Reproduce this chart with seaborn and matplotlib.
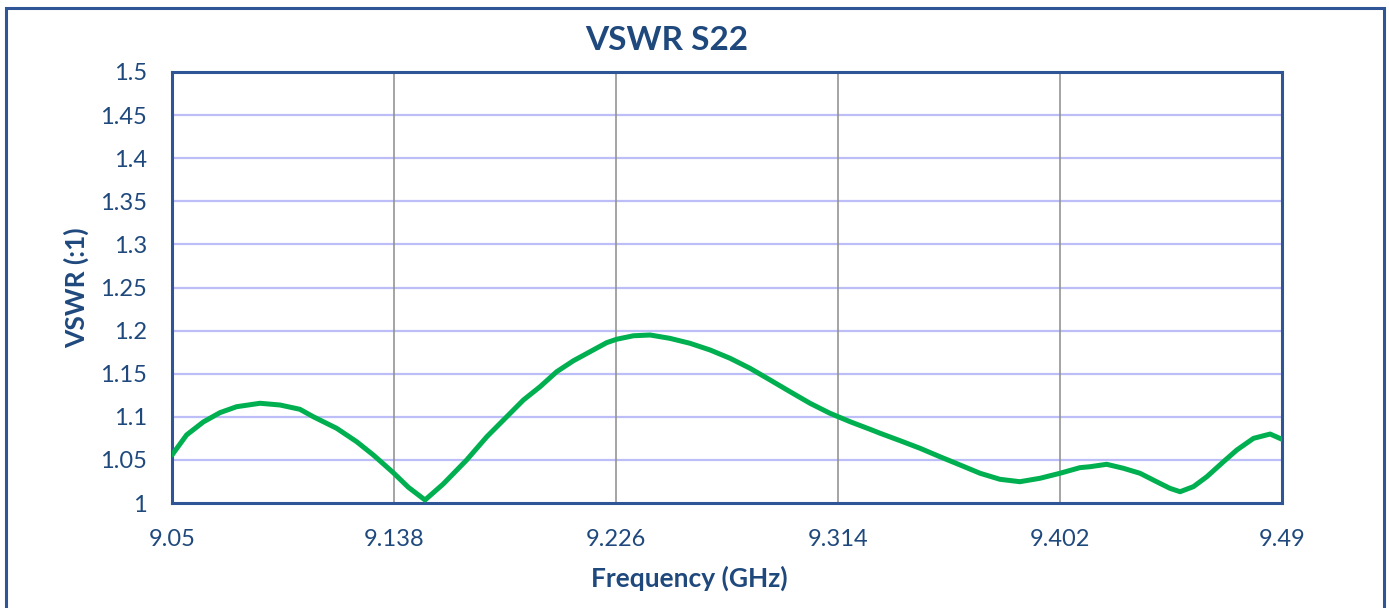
import matplotlib
matplotlib.use("Agg")
import matplotlib.pyplot as plt
from matplotlib.patches import Rectangle
import seaborn as sns
import pandas as pd

# Data
freq_ghz = [9.0500, 9.0558, 9.0624, 9.0690, 9.0756, 9.0849, 9.0928, 9.1007, 9.1060,
            9.1153, 9.1232, 9.1298, 9.1377, 9.1437, 9.1503, 9.1575, 9.1668, 9.1748,
            9.1827, 9.1893, 9.1959, 9.2025, 9.2091, 9.2157, 9.2223, 9.2263, 9.2329,
            9.2395, 9.2474, 9.2553, 9.2633, 9.2712, 9.2791, 9.2871, 9.2950, 9.3029,
            9.3108, 9.3188, 9.3267, 9.3307, 9.3386, 9.3465, 9.3544, 9.3624, 9.3703,
            9.3782, 9.3861, 9.3941, 9.4020, 9.4099, 9.4139, 9.4205, 9.4271, 9.4337,
            9.4403, 9.4456, 9.4496, 9.4549, 9.4602, 9.4668, 9.4721, 9.4787, 9.4853,
            9.4900]
vswr = [1.0557, 1.0790, 1.0940, 1.1048, 1.1117, 1.1157, 1.1137, 1.1087, 1.1001,
        1.0866, 1.0711, 1.0557, 1.0352, 1.0182, 1.0035, 1.0220, 1.0499, 1.0769,
        1.1001, 1.1195, 1.1349, 1.1523, 1.1650, 1.1755, 1.1860, 1.1900, 1.1940,
        1.1949, 1.1910, 1.1853, 1.1775, 1.1679, 1.1563, 1.1427, 1.1291, 1.1157,
        1.1041, 1.0943, 1.0855, 1.0809, 1.0723, 1.0635, 1.0537, 1.0441, 1.0345,
        1.0275, 1.0247, 1.0287, 1.0345, 1.0410, 1.0421, 1.0449, 1.0403, 1.0345,
        1.0247, 1.0170, 1.0131, 1.0190, 1.0305, 1.0479, 1.0615, 1.0750, 1.0800,
        1.0739]

x_ticks = [9.05, 9.138, 9.226, 9.314, 9.402, 9.49]
x_tick_labels = ["9.05", "9.138", "9.226", "9.314", "9.402", "9.49"]
y_ticks = [1.0, 1.05, 1.1, 1.15, 1.2, 1.25, 1.3, 1.35, 1.4, 1.45, 1.5]
y_tick_labels = ["1", "1.05", "1.1", "1.15", "1.2", "1.25", "1.3", "1.35", "1.4", "1.45", "1.5"]

title = "VSWR S22"
x_label = "Frequency (GHz)"
y_label = "VSWR (:1)"

sns.set_theme(style="white")
plt.rcParams["font.family"] = ["Lato", "DejaVu Sans"]

text_color = "#1F497D"
frame_color = "#2F5597"

df = pd.DataFrame({"freq": freq_ghz, "vswr": vswr})

fig = plt.figure(figsize=(13.89, 6.08), dpi=100)
ax = fig.add_axes([172 / 1389, 1 - 503 / 608, (1282 - 172) / 1389, (503 - 72) / 608])

# Outer chart frame (bottom edge falls below the image)
fig.patches.append(Rectangle((6 / 1389, -0.05), (1384 - 6) / 1389, 1 - 8 / 608 + 0.05,
                             transform=fig.transFigure, fill=False,
                             edgecolor=frame_color, linewidth=2.2, zorder=0))

sns.lineplot(data=df, x="freq", y="vswr", ax=ax, color="#00B050", linewidth=3.6, zorder=5)

ax.set_xlim(9.05, 9.49)
ax.set_ylim(1.0, 1.5)
ax.set_xticks(x_ticks)
ax.set_xticklabels(x_tick_labels)
ax.set_yticks(y_ticks)
ax.set_yticklabels(y_tick_labels)

for y in y_ticks[1:-1]:
    ax.axhline(y, color="#BDBDF7", linewidth=1.6, zorder=1)
for x in x_ticks[1:-1]:
    ax.axvline(x, color="#8C8C8C", linewidth=1.1, zorder=1)

for s in ax.spines.values():
    s.set_color(frame_color)
    s.set_linewidth(2.2)
    s.set_visible(True)

ax.tick_params(axis="both", length=0, labelsize=17, colors=text_color)
ax.tick_params(axis="x", pad=19)
ax.tick_params(axis="y", pad=18)

ax.set_xlabel(x_label, fontsize=19, fontweight="bold", color=text_color)
ax.xaxis.set_label_coords((689 - 172) / (1282 - 172), -(578 - 503) / (503 - 72))
ax.xaxis.label.set_va("center")
ax.set_ylabel(y_label, fontsize=19, fontweight="bold", color=text_color)
ax.yaxis.set_label_coords(-(172 - 76) / (1282 - 172), 0.5)
ax.yaxis.label.set_va("center")
fig.text((587 + 747) / 2 / 1389, 1 - 40 / 608, title, ha="center", va="center",
         fontsize=24, fontweight="bold", color=text_color)

fig.savefig("out.png", dpi=100)
